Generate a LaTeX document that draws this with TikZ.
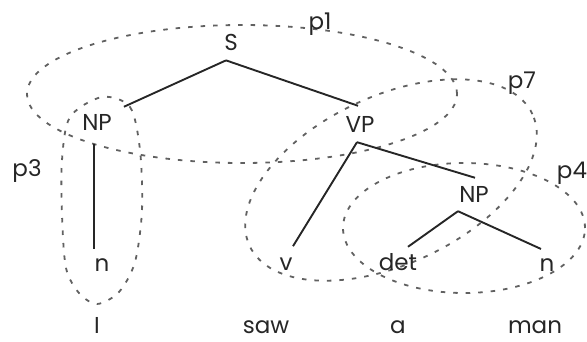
\documentclass[tikz,border=0pt]{standalone}
\usepackage{fontspec}
\setmainfont{Poppins}
\begin{document}
\begin{tikzpicture}[x=1pt,y=-1pt,
  lab/.style={inner sep=0pt, anchor=base, font=\fontsize{23}{26}\selectfont, text=black!85},
  edge/.style={line width=1.9pt, draw=black!85},
  group/.style={draw=black!62, line width=1.8pt, dash pattern=on 4.5pt off 8pt}]
\useasboundingbox (0,0) rectangle (587,341);
% group outlines
\draw[group] (242,94) ellipse [x radius=215pt, y radius=69pt];
\draw[group, rotate around={25:(391,180)}] (391,180) ellipse [x radius=156pt, y radius=84pt];
\draw[group] (464,228) ellipse [x radius=121pt, y radius=65pt];
\draw[group] plot[smooth cycle] coordinates {(102,97) (130,107) (140,150) (142,210) (135,262) (119,292) (97,304) (79,293) (66,268) (62,215) (62,160) (70,117)};
% tree nodes
\node[lab] (S) at (231,50) {S};
\node[lab] (NPa) at (97,130) {NP};
\node[lab] (VP) at (360,132) {VP};
\node[lab] (NPb) at (474,202) {NP};
\node[lab] (na) at (102,271) {n};
\node[lab] (v) at (286,270) {v};
\node[lab] (det) at (398,270) {det};
\node[lab] (nb) at (547,271) {n};
% words
\node[lab] (wI) at (97,333) {I};
\node[lab] (wsaw) at (266,333) {saw};
\node[lab] (wa) at (398,333) {a};
\node[lab] (wman) at (535,333) {man};
% group labels
\node[lab] (p1) at (320,29) {p1};
\node[lab] (p7) at (522,88) {p7};
\node[lab] (p3) at (27,176) {p3};
\node[lab] (p4) at (572,178) {p4};
% tree edges
\draw[edge] ([shift={(-5,10)}]S.south) -- ([shift={(12,-7)}]NPa.north east);
\draw[edge] ([shift={(-5,10)}]S.south) -- ([shift={(-2,-10)}]VP.north);
\draw[edge, shorten >=9pt] ([shift={(-3,14)}]NPa.south) coordinate (t) -- (t |- na.north);
\draw[edge] ([shift={(-3,10)}]VP.south) -- ([shift={(7,-11)}]v.north);
\draw[edge] ([shift={(-3,10)}]VP.south) -- ([shift={(1,-8)}]NPb.north);
\draw[edge] ([shift={(-16,9)}]NPb.south) -- ([shift={(10,-6)}]det.north);
\draw[edge] ([shift={(-16,9)}]NPb.south) -- ([shift={(-6,-9)}]nb.north);
\end{tikzpicture}
\end{document}
